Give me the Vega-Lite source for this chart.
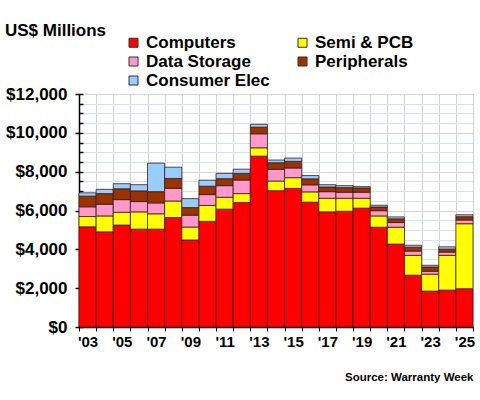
{
  "$schema": "https://vega.github.io/schema/vega-lite/v6.json",
  "autosize": "none",
  "width": 394,
  "height": 233,
  "padding": {"left": 79, "top": 94, "right": 7, "bottom": 73},
  "background": "white",
  "config": {"view": {"stroke": null}, "font": "Liberation Sans"},
  "title": {"text": "US$ Millions", "anchor": "start", "frame": "group", "dx": -74, "offset": -6, "fontSize": 17, "fontWeight": "bold", "font": "Liberation Sans", "color": "black"},
  "data": {"values": [
    {"y":2003,"c":"Computers","v":5160},{"y":2003,"c":"Semi & PCB","v":530},{"y":2003,"c":"Data Storage","v":500},{"y":2003,"c":"Peripherals","v":550},{"y":2003,"c":"Consumer Elec","v":170},
    {"y":2004,"c":"Computers","v":4900},{"y":2004,"c":"Semi & PCB","v":820},{"y":2004,"c":"Data Storage","v":600},{"y":2004,"c":"Peripherals","v":550},{"y":2004,"c":"Consumer Elec","v":220},
    {"y":2005,"c":"Computers","v":5250},{"y":2005,"c":"Semi & PCB","v":660},{"y":2005,"c":"Data Storage","v":650},{"y":2005,"c":"Peripherals","v":560},{"y":2005,"c":"Consumer Elec","v":260},
    {"y":2006,"c":"Computers","v":5040},{"y":2006,"c":"Semi & PCB","v":890},{"y":2006,"c":"Data Storage","v":530},{"y":2006,"c":"Peripherals","v":550},{"y":2006,"c":"Consumer Elec","v":320},
    {"y":2007,"c":"Computers","v":5040},{"y":2007,"c":"Semi & PCB","v":790},{"y":2007,"c":"Data Storage","v":560},{"y":2007,"c":"Peripherals","v":580},{"y":2007,"c":"Consumer Elec","v":1470},
    {"y":2008,"c":"Computers","v":5640},{"y":2008,"c":"Semi & PCB","v":850},{"y":2008,"c":"Data Storage","v":650},{"y":2008,"c":"Peripherals","v":510},{"y":2008,"c":"Consumer Elec","v":580},
    {"y":2009,"c":"Computers","v":4480},{"y":2009,"c":"Semi & PCB","v":670},{"y":2009,"c":"Data Storage","v":610},{"y":2009,"c":"Peripherals","v":390},{"y":2009,"c":"Consumer Elec","v":460},
    {"y":2010,"c":"Computers","v":5440},{"y":2010,"c":"Semi & PCB","v":820},{"y":2010,"c":"Data Storage","v":560},{"y":2010,"c":"Peripherals","v":430},{"y":2010,"c":"Consumer Elec","v":310},
    {"y":2011,"c":"Computers","v":6070},{"y":2011,"c":"Semi & PCB","v":610},{"y":2011,"c":"Data Storage","v":600},{"y":2011,"c":"Peripherals","v":360},{"y":2011,"c":"Consumer Elec","v":270},
    {"y":2012,"c":"Computers","v":6410},{"y":2012,"c":"Semi & PCB","v":460},{"y":2012,"c":"Data Storage","v":700},{"y":2012,"c":"Peripherals","v":340},{"y":2012,"c":"Consumer Elec","v":220},
    {"y":2013,"c":"Computers","v":8800},{"y":2013,"c":"Semi & PCB","v":430},{"y":2013,"c":"Data Storage","v":720},{"y":2013,"c":"Peripherals","v":340},{"y":2013,"c":"Consumer Elec","v":150},
    {"y":2014,"c":"Computers","v":7020},{"y":2014,"c":"Semi & PCB","v":500},{"y":2014,"c":"Data Storage","v":600},{"y":2014,"c":"Peripherals","v":340},{"y":2014,"c":"Consumer Elec","v":140},
    {"y":2015,"c":"Computers","v":7140},{"y":2015,"c":"Semi & PCB","v":550},{"y":2015,"c":"Data Storage","v":500},{"y":2015,"c":"Peripherals","v":340},{"y":2015,"c":"Consumer Elec","v":170},
    {"y":2016,"c":"Computers","v":6430},{"y":2016,"c":"Semi & PCB","v":530},{"y":2016,"c":"Data Storage","v":360},{"y":2016,"c":"Peripherals","v":310},{"y":2016,"c":"Consumer Elec","v":170},
    {"y":2017,"c":"Computers","v":5930},{"y":2017,"c":"Semi & PCB","v":700},{"y":2017,"c":"Data Storage","v":340},{"y":2017,"c":"Peripherals","v":240},{"y":2017,"c":"Consumer Elec","v":120},
    {"y":2018,"c":"Computers","v":5960},{"y":2018,"c":"Semi & PCB","v":670},{"y":2018,"c":"Data Storage","v":310},{"y":2018,"c":"Peripherals","v":240},{"y":2018,"c":"Consumer Elec","v":100},
    {"y":2019,"c":"Computers","v":6120},{"y":2019,"c":"Semi & PCB","v":510},{"y":2019,"c":"Data Storage","v":310},{"y":2019,"c":"Peripherals","v":220},{"y":2019,"c":"Consumer Elec","v":70},
    {"y":2020,"c":"Computers","v":5140},{"y":2020,"c":"Semi & PCB","v":580},{"y":2020,"c":"Data Storage","v":270},{"y":2020,"c":"Peripherals","v":190},{"y":2020,"c":"Consumer Elec","v":90},
    {"y":2021,"c":"Computers","v":4270},{"y":2021,"c":"Semi & PCB","v":870},{"y":2021,"c":"Data Storage","v":240},{"y":2021,"c":"Peripherals","v":190},{"y":2021,"c":"Consumer Elec","v":100},
    {"y":2022,"c":"Computers","v":2670},{"y":2022,"c":"Semi & PCB","v":1020},{"y":2022,"c":"Data Storage","v":220},{"y":2022,"c":"Peripherals","v":200},{"y":2022,"c":"Consumer Elec","v":100},
    {"y":2023,"c":"Computers","v":1850},{"y":2023,"c":"Semi & PCB","v":870},{"y":2023,"c":"Data Storage","v":150},{"y":2023,"c":"Peripherals","v":220},{"y":2023,"c":"Consumer Elec","v":90},
    {"y":2024,"c":"Computers","v":1900},{"y":2024,"c":"Semi & PCB","v":1790},{"y":2024,"c":"Data Storage","v":170},{"y":2024,"c":"Peripherals","v":150},{"y":2024,"c":"Consumer Elec","v":120},
    {"y":2025,"c":"Computers","v":1970},{"y":2025,"c":"Semi & PCB","v":3350},{"y":2025,"c":"Data Storage","v":190},{"y":2025,"c":"Peripherals","v":170},{"y":2025,"c":"Consumer Elec","v":100}
  ]},
  "encoding": {
    "x": {"field": "y", "type": "ordinal", "scale": {"paddingInner": 0, "paddingOuter": 0},
      "axis": {"tickBand": "extent", "grid": true, "gridColor": "#d4d4d4", "gridWidth": 1, "domainColor": "black", "domainWidth": 1.5, "tickColor": "black", "tickSize": 4,
        "labelExpr": "datum.value % 2 == 1 ? \"'\" + substring(toString(datum.value), 2) : ''",
        "labelAngle": 0, "labelFont": "Liberation Sans", "labelFontWeight": "bold", "labelFontSize": 15, "labelColor": "black", "labelPadding": 3,
        "title": "Source: Warranty Week", "titleAnchor": "end", "titleFont": "Liberation Sans", "titleFontSize": 11.5, "titleFontWeight": "bold", "titleColor": "black", "titlePadding": 22}}
  },
  "layer": [
    {
      "mark": {"type": "bar", "opacity": 0},
      "encoding": {
        "y": {"field": "v", "type": "quantitative", "aggregate": "sum", "scale": {"domain": [0, 12000], "nice": false},
          "axis": {"orient": "left", "values": [0,500,1000,1500,2000,2500,3000,3500,4000,4500,5000,5500,6000,6500,7000,7500,8000,8500,9000,9500,10000,10500,11000,11500,12000],
            "labels": false, "domain": false, "tickSize": -4, "tickColor": "black", "tickWidth": 1.5, "grid": true, "gridColor": "#d3e4f7", "gridWidth": 1, "title": null}}
      }
    },
    {
      "transform": [{"calculate": "indexof(['Computers', 'Semi & PCB', 'Data Storage', 'Peripherals', 'Consumer Elec'], datum.c)", "as": "rank"}],
      "mark": {"type": "bar", "stroke": "#3a1a1a", "strokeWidth": 0.8},
      "encoding": {
        "y": {"field": "v", "type": "quantitative", "stack": "zero", "scale": {"domain": [0, 12000], "nice": false},
          "axis": {"orient": "left", "values": [0,2000,4000,6000,8000,10000,12000], "format": "$,d",
            "domainColor": "black", "domainWidth": 1.5, "tickColor": "black", "tickSize": 4, "tickWidth": 1.5,
            "grid": true, "gridColor": "#d4d4d4", "gridWidth": 1,
            "labelFont": "Liberation Sans", "labelFontWeight": "bold", "labelFontSize": 17, "labelColor": "black", "labelPadding": 8, "title": null}},
        "color": {"field": "c", "type": "nominal", "sort": ["Computers", "Semi & PCB", "Data Storage", "Peripherals", "Consumer Elec"],
          "scale": {"domain": ["Computers", "Semi & PCB", "Data Storage", "Peripherals", "Consumer Elec"], "range": ["#ff0000", "#ffff00", "#ff99cc", "#993300", "#99ccff"]},
          "legend": {"orient": "none", "direction": "horizontal", "legendX": 46, "legendY": -60, "columns": 2, "columnPadding": 24, "rowPadding": 1, "title": null,
            "symbolType": "square", "symbolSize": 81, "symbolStrokeColor": "#333333", "symbolStrokeWidth": 1, "symbolOpacity": 1,
            "labelFont": "Liberation Sans", "labelFontWeight": "bold", "labelFontSize": 17, "labelColor": "black", "labelOffset": 4, "labelLimit": 300}},
        "order": {"field": "rank", "type": "quantitative", "sort": "ascending"}
      }
    }
  ],
  "resolve": {"axis": {"y": "independent"}}
}
